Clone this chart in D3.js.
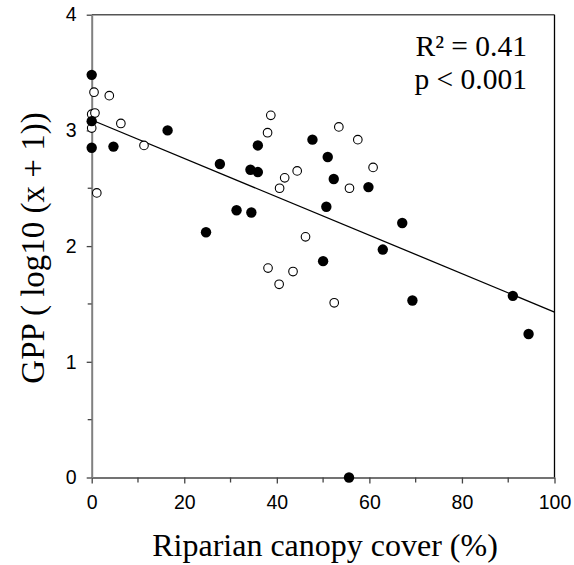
<!DOCTYPE html>
<html><head><meta charset="utf-8">
<script src="https://cdn.jsdelivr.net/npm/d3@7"></script>
<style>body{margin:0;background:#fff}svg{display:block}</style>
</head><body>
<script>
// canopy cover (%) and GPP (log10(x+1)) — filled symbols
const filledX = [0, 0, 0, 4.7, 16.4, 24.7, 27.7, 31.3, 34.5, 34.3, 35.9, 35.9, 47.7, 51.0, 52.3, 50.7, 59.8, 67.1, 62.9, 50.0, 69.3, 91.0, 94.4, 55.6];
const filledY = [3.48, 3.08, 2.85, 2.86, 3.00, 2.12, 2.71, 2.31, 2.29, 2.66, 2.87, 2.64, 2.92, 2.77, 2.58, 2.34, 2.51, 2.20, 1.97, 1.87, 1.53, 1.57, 1.24, 0.00];
// open symbols
const openX = [0.5, 3.8, 0, 0.7, 0, 6.3, 11.3, 1.1, 38.7, 38.0, 41.7, 40.6, 44.4, 46.2, 53.4, 57.5, 60.8, 55.7, 38.1, 43.5, 40.5, 52.4];
const openY = [3.33, 3.30, 3.14, 3.15, 3.02, 3.06, 2.87, 2.46, 3.13, 2.98, 2.59, 2.50, 2.65, 2.08, 3.03, 2.92, 2.68, 2.50, 1.81, 1.78, 1.67, 1.51];
// fitted regression line endpoints
const fitX = [0, 100];
const fitY = [3.09, 1.43];
const xTicks = [0, 20, 40, 60, 80, 100];
const xMinor = [10, 30, 50, 70, 90];
const yTicks = [0, 1, 2, 3, 4];
const yMinor = [0.5, 1.5, 2.5, 3.5];

const W = 574, H = 565;
const svg = d3.select("body").append("svg").attr("width", W).attr("height", H);
const x = d3.scaleLinear().domain([0, 100]).range([91.7, 554.5]);
const y = d3.scaleLinear().domain([0, 4]).range([477.5, 14.7]);

const g = svg.append("g");
// frame
g.append("line").attr("x1", x(0)).attr("x2", x(100)).attr("y1", y(4)).attr("y2", y(4)).attr("stroke", "#555").attr("stroke-width", 1.5);
g.append("line").attr("x1", x(100)).attr("x2", x(100)).attr("y1", y(4)).attr("y2", y(0)).attr("stroke", "#000").attr("stroke-width", 1.3);

// x axis
const xAxis = g.append("g").attr("transform", `translate(0,${y(0)})`)
  .call(d3.axisBottom(x).tickValues(xTicks).tickSize(6).tickSizeOuter(0).tickPadding(12).tickFormat(d3.format("d")));
xAxis.append("g").selectAll("line").data(xMinor).join("line")
  .attr("x1", d => x(d)).attr("x2", d => x(d)).attr("y1", 0).attr("y2", 5);
xAxis.selectAll("line").attr("stroke", "#444").attr("stroke-width", 1.3);
xAxis.select(".domain").attr("stroke", "#444").attr("stroke-width", 1.5);
xAxis.selectAll("text").attr("font-family", "Liberation Sans, Arial, sans-serif").attr("font-size", 19.5).attr("fill", "#000");

// y axis
const yAxis = g.append("g").attr("transform", `translate(${x(0)},0)`)
  .call(d3.axisLeft(y).tickValues(yTicks).tickSize(5).tickSizeOuter(0).tickPadding(10).tickFormat(d3.format("d")));
yAxis.append("g").selectAll("line").data(yMinor).join("line")
  .attr("x1", 0).attr("x2", -4).attr("y1", d => y(d)).attr("y2", d => y(d));
yAxis.selectAll("line").attr("stroke", "#444").attr("stroke-width", 1.3);
yAxis.select(".domain").attr("stroke", "#808080").attr("stroke-width", 2);
yAxis.selectAll("text").attr("font-family", "Liberation Sans, Arial, sans-serif").attr("font-size", 19.5).attr("fill", "#000");

// regression line
const fit = fitX.map((d, i) => [d, fitY[i]]);
g.append("path").datum(fit)
  .attr("d", d3.line().x(d => x(d[0])).y(d => y(d[1])))
  .attr("stroke", "#000").attr("stroke-width", 1.3).attr("fill", "none");

// open points
g.append("g").selectAll("circle").data(openX.map((d, i) => [d, openY[i]])).join("circle")
  .attr("cx", d => x(d[0])).attr("cy", d => y(d[1])).attr("r", 4.3)
  .attr("fill", "#fff").attr("stroke", "#000").attr("stroke-width", 1.1);
// filled points
g.append("g").selectAll("circle").data(filledX.map((d, i) => [d, filledY[i]])).join("circle")
  .attr("cx", d => x(d[0])).attr("cy", d => y(d[1])).attr("r", 5.2)
  .attr("fill", "#000");

// axis titles
svg.append("text").attr("x", 325).attr("y", 556).attr("text-anchor", "middle")
  .attr("font-family", "Liberation Serif, Times New Roman, serif").attr("font-size", 32)
  .text("Riparian canopy cover (%)");
svg.append("text").attr("transform", "translate(44,248) rotate(-90)").attr("text-anchor", "middle")
  .attr("font-family", "Liberation Serif, Times New Roman, serif").attr("font-size", 33)
  .text("GPP ( log10 (x + 1))");

// annotations
const ann = svg.append("g").attr("font-family", "Liberation Serif, Times New Roman, serif").attr("font-size", 29.5).attr("text-anchor", "end");
ann.append("text").attr("x", 527).attr("y", 55.5).text("R² = 0.41");
ann.append("text").attr("x", 527).attr("y", 88.5).text("p < 0.001");
</script>
</body></html>
